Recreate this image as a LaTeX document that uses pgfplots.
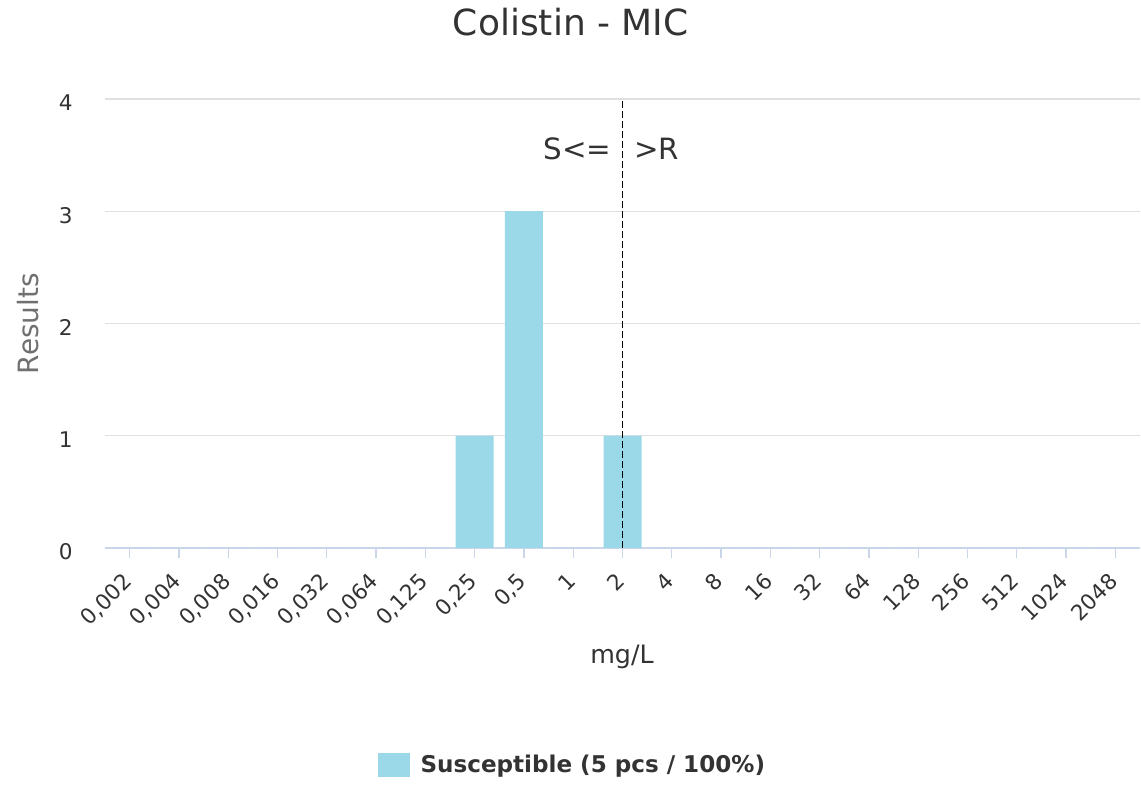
\documentclass[border=0pt]{standalone}
\usepackage{pgfplots}
\pgfplotsset{compat=1.18}
\usepackage{fontspec}
\setmainfont{DejaVu Sans}
\definecolor{barcol}{HTML}{9BD9E9}
\definecolor{gridcol}{HTML}{E0E0E0}
\definecolor{axiscol}{HTML}{CCD6EB}
\definecolor{txt}{HTML}{333333}
\definecolor{ylab}{HTML}{707070}
\begin{document}
\begin{tikzpicture}
\useasboundingbox (-78.75pt,-182.25pt) rectangle (777pt,411pt);
\begin{axis}[
  at={(0pt,0pt)}, anchor=south west,
  scale only axis, width=776.25pt, height=336.75pt,
  xmin=-0.5, xmax=20.5, ymin=0, ymax=4,
  xtick={0,...,20},
  xticklabels={{0,002},{0,004},{0,008},{0,016},{0,032},{0,064},{0,125},{0,25},{0,5},{1},{2},{4},{8},{16},{32},{64},{128},{256},{512},{1024},{2048}},
  ytick={0,1,2,3,4},
  axis x line*=bottom, axis y line*=left,
  y axis line style={draw=none},
  x axis line style={color=axiscol, line width=0.9pt},
  xtick align=outside,
  major tick length=7.5pt,
  xtick style={color=axiscol, line width=0.9pt},
  ytick style={draw=none},
  ymajorgrids, grid style={color=gridcol, line width=0.9pt},
  /pgf/number format/assume math mode=true,
  ticklabel style={font=\fontsize{16.2}{20}\selectfont, text=txt},
  xticklabel style={anchor=base east, inner sep=0pt, xshift=2.8pt, yshift=-18.75pt, rotate=45},
  yticklabel style={anchor=east, inner sep=0pt, xshift=-24pt, yshift=-3pt},
  title={Colistin - MIC},
  title style={font=\fontsize{27}{32}\selectfont, text=txt, at={(axis description cs:0.45,1)}, anchor=center, yshift=51.5pt},
  xlabel={mg/L},
  xlabel style={font=\fontsize{19}{23}\selectfont, text=txt, at={(axis description cs:0.4995,-0.243)}, anchor=center},
  ylabel={Results},
  ylabel style={font=\fontsize{21}{25}\selectfont, text=ylab, at={(axis description cs:-0.0744,0.5)}, anchor=center},
  legend style={at={(axis description cs:0.452,0)}, anchor=center, yshift=-162.75pt, draw=none, fill=none, font=\bfseries\fontsize{17.3}{20}\selectfont, text=txt, legend cell align=left},
  legend image code/.code={\fill[barcol] (0pt,-9pt) rectangle (24pt,9pt); \path (30pt,0pt);},
]
\addplot[ybar, bar width=28.5pt, fill=barcol, draw=none] coordinates {
(0,0) (1,0) (2,0) (3,0) (4,0) (5,0) (6,0) (7,1) (8,3) (9,0) (10,1)
(11,0) (12,0) (13,0) (14,0) (15,0) (16,0) (17,0) (18,0) (19,0) (20,0)};
\addlegendentry{Susceptible (5 pcs / 100\%)}
\addplot[black, line width=1.3pt, dash pattern=on 5.25pt off 2.25pt, forget plot] coordinates {(10,0) (10,4)};
\node[anchor=east, inner sep=0pt, font=\fontsize{22}{26}\selectfont, text=txt, xshift=-8.25pt] at (axis cs:10,3.56) {S<=};
\node[anchor=west, inner sep=0pt, font=\fontsize{22}{26}\selectfont, text=txt, xshift=8.5pt] at (axis cs:10,3.56) {>R};
\end{axis}
\end{tikzpicture}
\end{document}
